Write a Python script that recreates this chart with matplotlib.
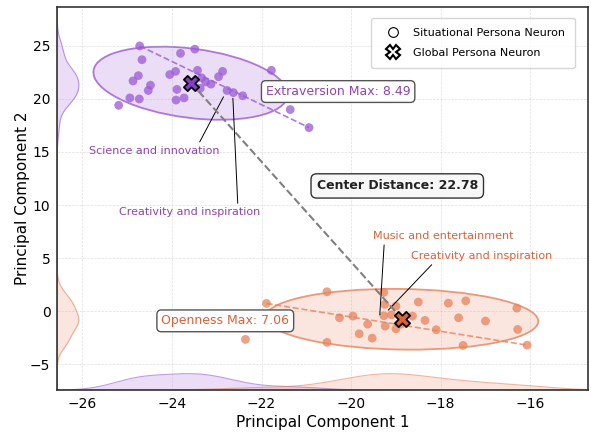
import numpy as np
import matplotlib.pyplot as plt
from matplotlib.patches import Ellipse
import matplotlib.transforms as transforms
from matplotlib.lines import Line2D

# situational neurons, Extraversion (purple)
ext_x = [-24.72, -24.67, -23.81, -23.49, -24.87, -24.75, -24.48, -24.53, -24.94, -24.73,
         -25.19, -24.05, -23.92, -23.89, -23.91, -23.73, -23.43, -23.34, -23.37, -23.25,
         -23.13, -22.96, -22.87, -22.77, -22.63, -22.42, -21.78, -21.36, -20.94]
ext_y = [25.0, 23.7, 24.3, 24.7, 21.7, 22.2, 21.3, 20.8, 20.1, 20.0,
         19.4, 22.3, 22.6, 20.9, 19.9, 20.1, 22.7, 22.0, 21.0, 21.6,
         21.4, 22.1, 22.6, 20.8, 20.6, 20.3, 22.7, 19.0, 17.3]
# situational neurons, Openness (orange)
opn_x = [-21.89, -20.54, -20.54, -20.26, -19.96, -19.63, -19.82, -19.53, -19.27, -19.25,
         -19.0, -19.27, -19.10, -19.24, -19.0, -18.88, -18.63, -18.5, -18.35, -18.1,
         -17.83, -17.6, -17.44, -17.50, -17.0, -16.30, -16.28, -16.07, -22.36]
opn_y = [0.72, 1.82, -2.95, -0.63, -0.47, -1.23, -2.14, -2.55, 1.76, 0.63,
         0.47, -0.44, -0.35, -1.42, -1.67, -1.23, -0.47, 0.85, -0.88, -1.76,
         0.75, -0.63, 0.97, -3.24, -0.94, 0.28, -1.73, -3.21, -2.67]

ext_center = (-23.57, 21.5)
opn_center = (-18.86, -0.75)
ext_max = 8.49
opn_max = 7.06
center_dist = 22.78

# labelled neurons: (text, point, text position, relpos)
ext_notes = [("Science and innovation", (-22.85, 20.2), (-24.39, 15.1), (0.83, 1.0)),
             ("Creativity and inspiration", (-22.64, 20.07), (-23.6, 9.3), (0.84, 1.0))]
opn_notes = [("Music and entertainment", (-19.36, -0.35), (-17.94, 7.1), (0.08, 0.0)),
             ("Creativity and inspiration", (-19.17, 0.09), (-17.08, 5.2), (0.17, 0.0))]

purple = "#9b59d6"
purple_dark = "#8040c0"
purple_text = "#8e44ad"
orange = "#e8825c"
orange_dark = "#e06030"
orange_text = "#d9623b"


def conf_ellipse(ax, x, y, n_std, color):
    cov = np.cov(x, y)
    p = cov[0, 1] / np.sqrt(cov[0, 0] * cov[1, 1])
    rx, ry = np.sqrt(1 + p), np.sqrt(1 - p)
    e = Ellipse((0, 0), width=rx * 2, height=ry * 2, facecolor=color, alpha=0.2,
                edgecolor="none", zorder=1)
    e2 = Ellipse((0, 0), width=rx * 2, height=ry * 2, facecolor="none",
                 edgecolor=color, lw=1.3, alpha=0.8, zorder=1)
    sx = np.sqrt(cov[0, 0]) * n_std
    sy = np.sqrt(cov[1, 1]) * n_std
    tr = transforms.Affine2D().rotate_deg(45).scale(sx, sy).translate(np.mean(x), np.mean(y))
    for el in (e, e2):
        el.set_transform(tr + ax.transData)
        ax.add_patch(el)


def kde(vals, grid):
    vals = np.asarray(vals)
    bw = vals.std(ddof=1) * len(vals) ** (-1 / 5)
    d = np.exp(-0.5 * ((grid[:, None] - vals[None, :]) / bw) ** 2).sum(axis=1)
    return d / d.max()


def farthest(x, y):
    pts = np.column_stack([x, y])
    d = np.linalg.norm(pts[:, None] - pts[None, :], axis=2)
    i, j = np.unravel_index(d.argmax(), d.shape)
    return pts[i], pts[j]


fig, ax = plt.subplots(figsize=(5.91, 4.32), dpi=100)
fig.subplots_adjust(left=0.097, right=0.995, top=0.984, bottom=0.097)

xlim = (-26.56, -14.71)
ylim = (-7.45, 28.68)
ax.set_xlim(*xlim)
ax.set_ylim(*ylim)

# marginal kdes
gy = np.linspace(ylim[0], ylim[1], 400)
gx = np.linspace(xlim[0], xlim[1], 400)
for xs, ys, c in [(ext_x, ext_y, purple), (opn_x, opn_y, orange)]:
    dy = kde(ys, gy) * 0.48
    ax.fill_betweenx(gy, xlim[0], xlim[0] + dy, color=c, alpha=0.2, lw=0, zorder=0)
    ax.plot(xlim[0] + dy, gy, color=c, lw=0.8, alpha=0.6, zorder=0)
    dx = kde(xs, gx) * 1.55
    ax.fill_between(gx, ylim[0], ylim[0] + dx, color=c, alpha=0.2, lw=0, zorder=0)
    ax.plot(gx, ylim[0] + dx, color=c, lw=0.8, alpha=0.6, zorder=0)

conf_ellipse(ax, ext_x, ext_y, 2.0, purple)
conf_ellipse(ax, opn_x, opn_y, 2.0, orange)

for xs, ys, c in [(ext_x, ext_y, purple), (opn_x, opn_y, orange)]:
    a, b = farthest(xs, ys)
    ax.plot([a[0], b[0]], [a[1], b[1]], ls="--", color=c, lw=1.2, alpha=0.8, zorder=2)
    ax.scatter(xs, ys, s=40, color=c, alpha=0.75, edgecolor="none", zorder=3)

ax.plot([ext_center[0], opn_center[0]], [ext_center[1], opn_center[1]],
        ls="--", color="gray", lw=1.5, zorder=4)
ax.scatter(*ext_center, marker="X", s=120, color=purple_dark, edgecolor="black", lw=1.3, zorder=5)
ax.scatter(*opn_center, marker="X", s=120, color=orange_dark, edgecolor="black", lw=1.3, zorder=5)

box = dict(boxstyle="round,pad=0.35", facecolor="white", edgecolor="#555555", lw=1)
ax.text(-20.29, 20.7, f"Extraversion Max: {ext_max:.2f}", color=purple_text, fontsize=9,
        ha="center", va="center", bbox=box, zorder=6)
ax.text(-22.81, -0.92, f"Openness Max: {opn_max:.2f}", color=orange_text, fontsize=9,
        ha="center", va="center", bbox=box, zorder=6)
ax.text(-18.97, 11.8, f"Center Distance: {center_dist:.2f}", color="#222222", fontsize=9,
        fontweight="bold", ha="center", va="center", zorder=6,
        bbox=dict(boxstyle="round,pad=0.45", facecolor="#f7f7f7", edgecolor="#333333", lw=1))

for notes, c in [(ext_notes, purple_text), (opn_notes, orange_text)]:
    for txt, pt, pos, rel in notes:
        ax.annotate(txt, xy=pt, xytext=pos, color=c, fontsize=8, ha="center", va="center",
                    arrowprops=dict(arrowstyle="-", color="black", lw=0.7, relpos=rel,
                                    shrinkA=1, shrinkB=0))

handles = [Line2D([], [], marker="o", ls="none", mfc="white", mec="black", mew=0.8, ms=7,
                  label="Situational Persona Neuron"),
           Line2D([], [], marker="X", ls="none", mfc="white", mec="black", mew=1.5, ms=10,
                  label="Global Persona Neuron")]
ax.legend(handles=handles, loc="upper right", fontsize=8, frameon=True, borderpad=0.9,
          labelspacing=0.9, bbox_to_anchor=(0.985, 0.985))

ax.set_xticks([-26, -24, -22, -20, -18, -16])
ax.set_yticks([-5, 0, 5, 10, 15, 20, 25])
ax.tick_params(labelsize=10, length=0, pad=5)
ax.grid(True, ls="--", lw=0.5, alpha=0.4)
ax.set_xlabel("Principal Component 1", fontsize=11, labelpad=3)
ax.set_ylabel("Principal Component 2", fontsize=11, labelpad=0)
for s in ax.spines.values():
    s.set_linewidth(1.2)
    s.set_color("#333333")

fig.savefig("out.png", dpi=100)
